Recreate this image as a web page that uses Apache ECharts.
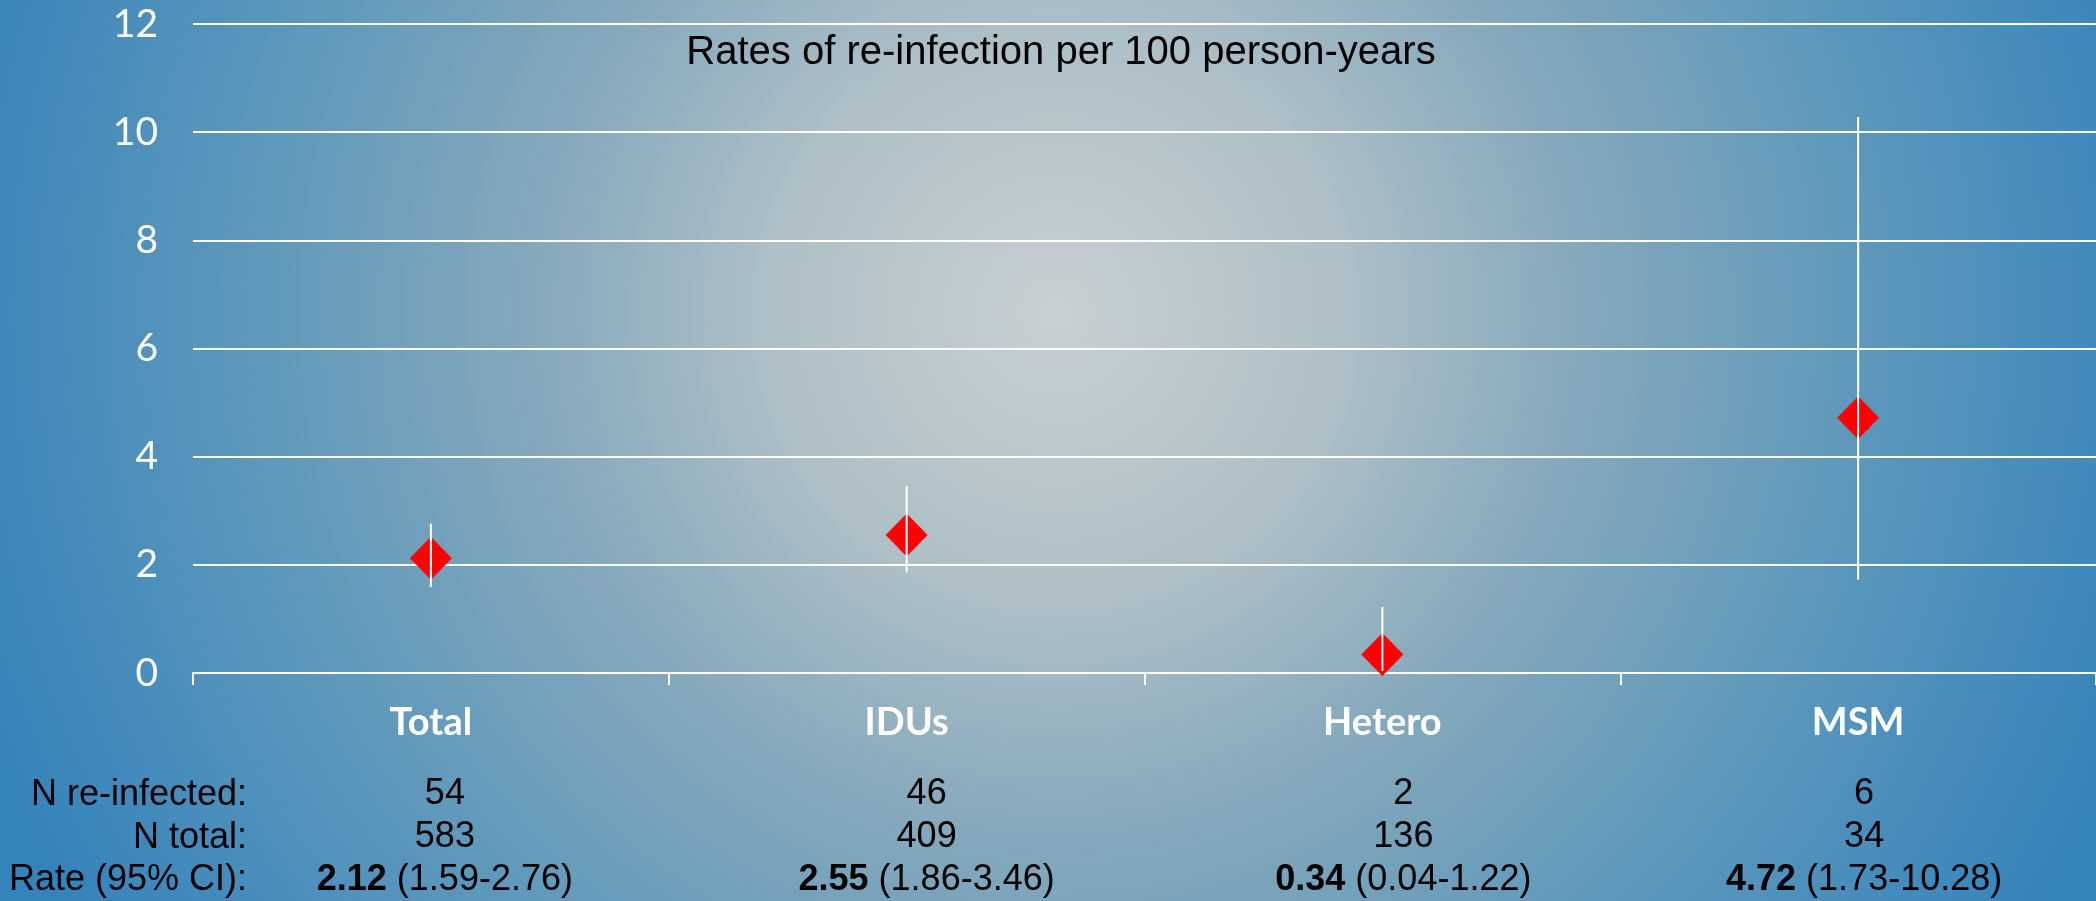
<!DOCTYPE html>
<html><head><meta charset="utf-8">
<script src="https://cdn.jsdelivr.net/npm/echarts@6/dist/echarts.min.js"></script>
<style>html,body{margin:0;padding:0;overflow:hidden;}#c{width:2096px;height:901px;}</style>
</head><body><div id="c"></div>
<script>
// ---- data ----
const categories = ['Total', 'IDUs', 'Hetero', 'MSM'];
const rates = [2.12, 2.55, 0.34, 4.72];
const ciLow = [1.59, 1.86, 0.04, 1.73];
const ciHigh = [2.76, 3.46, 1.22, 10.28];
const nReinfected = [54, 46, 2, 6];
const nTotal = [583, 409, 136, 34];
const rowLabels = ['N re-infected:', 'N total:', 'Rate (95% CI):'];
const titleText = 'Rates of re-infection per 100 person-years';
const yMin = 0, yMax = 12, yStep = 2;

// ---- layout (not data) ----
const tableShift = [28, 40, 42, 12];
const tableFont = '"Liberation Sans", Arial, sans-serif';
const gothicFont = 'Lato, "Open Sans", sans-serif';

const fmt = v => v.toFixed(2);
const rich = {
  c: { color: '#ffffff', fontFamily: gothicFont, fontWeight: 'bold', fontSize: 38, lineHeight: 100 },
  m: { color: '#000000', fontFamily: tableFont, fontSize: 36, lineHeight: 43 }
};
categories.forEach((c, i) => {
  rich['n' + i] = { color: '#000000', fontFamily: tableFont, fontSize: 36, lineHeight: 43, padding: [0, 0, 0, tableShift[i]] };
  rich['b' + i] = { color: '#000000', fontFamily: tableFont, fontWeight: 'bold', fontSize: 36, lineHeight: 43, padding: [0, 0, 0, tableShift[i]] };
});

const chart = echarts.init(document.getElementById('c'), null, { renderer: 'canvas' });
chart.setOption({
  animation: false,
  backgroundColor: {
    type: 'radial', x: 1056, y: 314, r: 1150, global: true,
    colorStops: [
      { offset: 0, color: '#c7d0d2' },
      { offset: 0.25, color: '#aebfc7' },
      { offset: 0.45, color: '#86a9bc' },
      { offset: 0.7, color: '#5e98bb' },
      { offset: 0.9, color: '#428abc' },
      { offset: 1, color: '#3583bb' }
    ]
  },
  grid: { left: 193, right: 0, top: 24, bottom: 228, containLabel: false },
  xAxis: {
    type: 'category',
    data: categories,
    boundaryGap: true,
    axisLine: { show: true, lineStyle: { color: '#ffffff', width: 2 } },
    axisTick: { show: true, length: 12, lineStyle: { color: '#ffffff', width: 2 } },
    splitLine: { show: false },
    axisLabel: {
      interval: 0,
      margin: 0,
      formatter: (v, i) => `{c|${v}}\n{n${i}|${nReinfected[i]}}\n{n${i}|${nTotal[i]}}\n{b${i}|${fmt(rates[i])}}{m| (${fmt(ciLow[i])}-${fmt(ciHigh[i])})}`,
      rich: rich
    }
  },
  yAxis: {
    type: 'value',
    min: yMin, max: yMax, interval: yStep,
    axisLine: { show: false },
    axisTick: { show: false },
    splitLine: { show: true, lineStyle: { color: '#ffffff', width: 2 } },
    axisLabel: { color: '#ffffff', fontFamily: gothicFont, fontWeight: 'normal', fontSize: 39, margin: 35 }
  },
  graphic: [
    { type: 'text', x: 1061, y: 53, style: { text: titleText, fill: '#000000', font: '40px "Liberation Sans", Arial, sans-serif', align: 'center', verticalAlign: 'middle' } },
    { type: 'text', x: 247, y: 795, style: { text: rowLabels[0], fill: '#000', font: '36px "Liberation Sans", Arial, sans-serif', align: 'right', verticalAlign: 'middle' } },
    { type: 'text', x: 247, y: 838, style: { text: rowLabels[1], fill: '#000', font: '36px "Liberation Sans", Arial, sans-serif', align: 'right', verticalAlign: 'middle' } },
    { type: 'text', x: 247, y: 880, style: { text: rowLabels[2], fill: '#000', font: '36px "Liberation Sans", Arial, sans-serif', align: 'right', verticalAlign: 'middle' } }
  ],
  series: [
    {
      type: 'scatter',
      data: rates,
      symbol: 'diamond',
      symbolSize: [42, 43],
      itemStyle: { color: '#ff0000', opacity: 1 },
      z: 2
    },
    {
      type: 'custom',
      data: categories.map((c, i) => [i, ciLow[i], ciHigh[i]]),
      encode: { x: 0, y: [1, 2] },
      renderItem: (params, api) => {
        const x = api.value(0);
        const lo = api.coord([x, api.value(1)]);
        const hi = api.coord([x, api.value(2)]);
        return { type: 'line', shape: { x1: lo[0], y1: lo[1], x2: hi[0], y2: hi[1] }, style: { stroke: '#ffffff', lineWidth: 2 } };
      },
      z: 3
    }
  ]
});
</script>
</body></html>
